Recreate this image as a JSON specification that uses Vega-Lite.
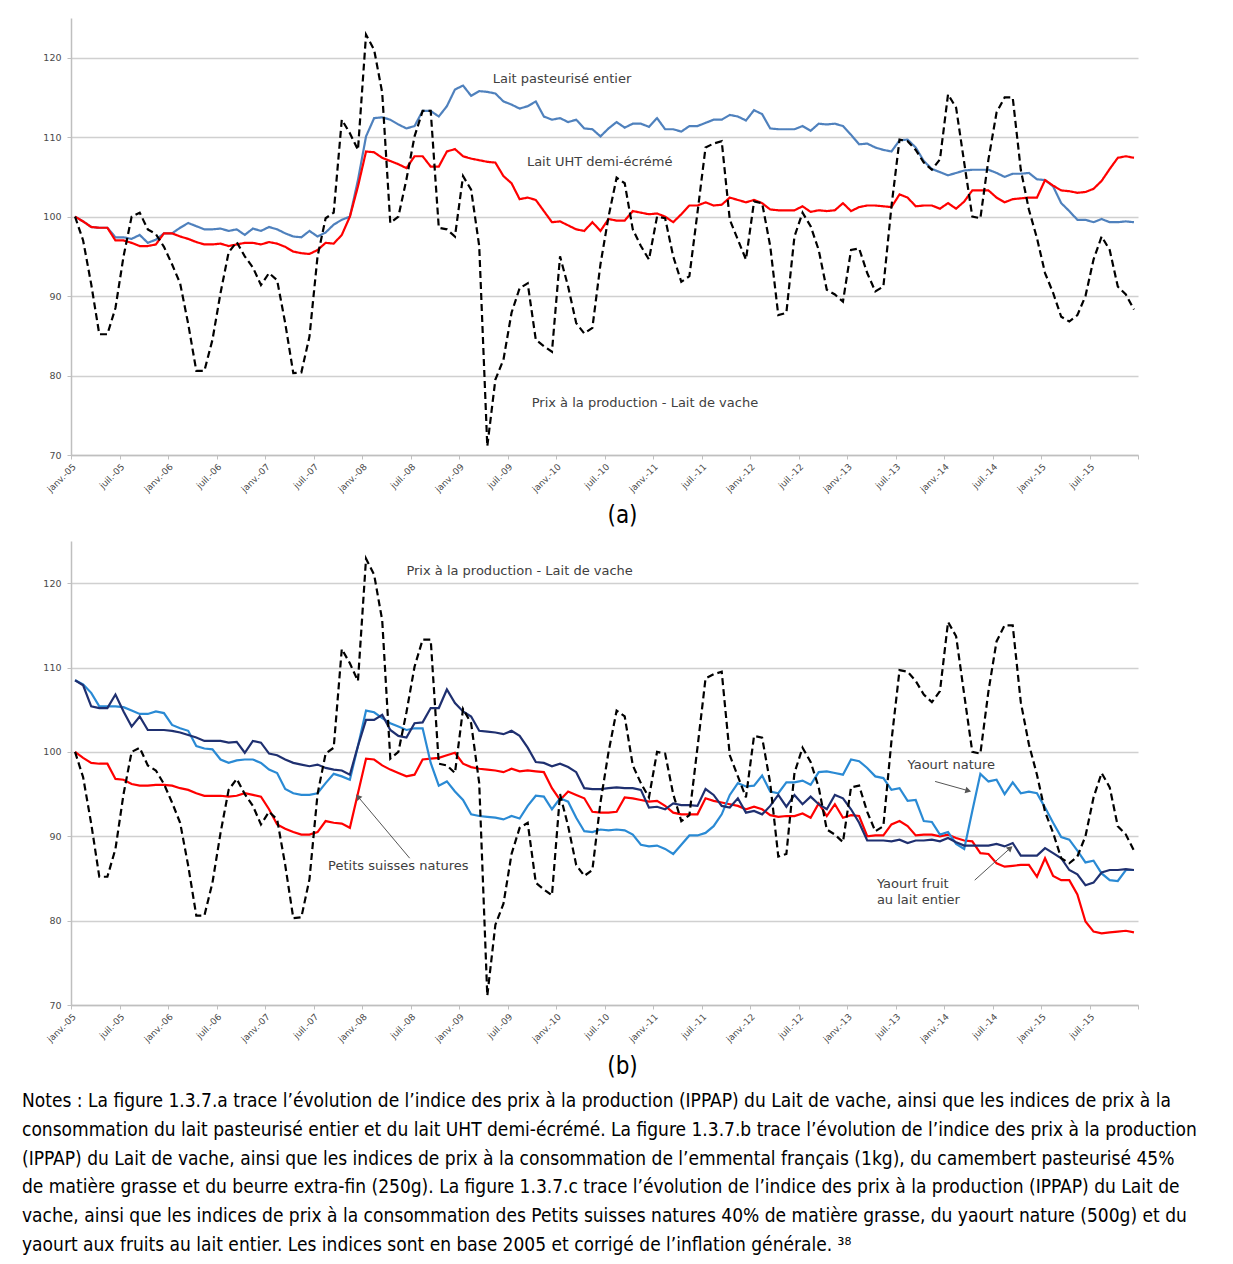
{
  "$schema": "https://vega.github.io/schema/vega-lite/v6.json",
  "background": "white",
  "padding": {"left": 21, "top": 18, "right": 5, "bottom": 5},
  "spacing": 14,
  "resolve": {"scale": {"color": "independent", "strokeDash": "independent"}},
  "config": {
    "font": "DejaVu Sans",
    "view": {"stroke": null},
    "axis": {"labelFont": "DejaVu Sans", "labelColor": "#4a4a4a", "domainColor": "#bfbfbf", "domainWidth": 1.5, "tickColor": "#bfbfbf", "gridColor": "#d0d0d0", "gridWidth": 1.5}
  },
  "datasets": {
    "a": [
      {"m":0,"prod":100,"past":100,"uht":100},{"m":1,"prod":97,"past":99.4,"uht":99.4},{"m":2,"prod":91.5,"past":98.7,"uht":98.7},{"m":3,"prod":85.2,"past":98.6,"uht":98.6},{"m":4,"prod":85.2,"past":98.6,"uht":98.6},{"m":5,"prod":88.5,"past":97.4,"uht":97},{"m":6,"prod":95,"past":97.4,"uht":97},{"m":7,"prod":100,"past":97.2,"uht":96.7},{"m":8,"prod":100.5,"past":97.7,"uht":96.3},{"m":9,"prod":98.4,"past":96.7,"uht":96.3},{"m":10,"prod":97.8,"past":97.1,"uht":96.5},{"m":11,"prod":96.2,"past":97.9,"uht":97.9},
      {"m":12,"prod":94,"past":97.9,"uht":97.9},{"m":13,"prod":91.6,"past":98.6,"uht":97.5},{"m":14,"prod":86.5,"past":99.2,"uht":97.2},{"m":15,"prod":80.6,"past":98.8,"uht":96.8},{"m":16,"prod":80.6,"past":98.4,"uht":96.5},{"m":17,"prod":84.5,"past":98.4,"uht":96.5},{"m":18,"prod":90.4,"past":98.5,"uht":96.6},{"m":19,"prod":95.5,"past":98.2,"uht":96.3},{"m":20,"prod":96.8,"past":98.4,"uht":96.5},{"m":21,"prod":95,"past":97.7,"uht":96.7},{"m":22,"prod":93.6,"past":98.5,"uht":96.7},{"m":23,"prod":91.4,"past":98.2,"uht":96.5},
      {"m":24,"prod":92.9,"past":98.7,"uht":96.8},{"m":25,"prod":92,"past":98.4,"uht":96.6},{"m":26,"prod":86.6,"past":97.9,"uht":96.2},{"m":27,"prod":80.3,"past":97.5,"uht":95.6},{"m":28,"prod":80.4,"past":97.4,"uht":95.4},{"m":29,"prod":84.9,"past":98.2,"uht":95.3},{"m":30,"prod":95,"past":97.5,"uht":95.8},{"m":31,"prod":99.8,"past":98,"uht":96.7},{"m":32,"prod":100.5,"past":99,"uht":96.6},{"m":33,"prod":112.2,"past":99.6,"uht":97.7},{"m":34,"prod":110.5,"past":100,"uht":100},{"m":35,"prod":108.4,"past":104.6,"uht":103.8},
      {"m":36,"prod":122.9,"past":110.1,"uht":108.2},{"m":37,"prod":121,"past":112.4,"uht":108.1},{"m":38,"prod":115.6,"past":112.5,"uht":107.4},{"m":39,"prod":99.2,"past":112.2,"uht":107},{"m":40,"prod":100,"past":111.6,"uht":106.6},{"m":41,"prod":104.7,"past":111.1,"uht":106.1},{"m":42,"prod":110.1,"past":111.4,"uht":107.6},{"m":43,"prod":113.3,"past":113.3,"uht":107.6},{"m":44,"prod":113.3,"past":113.3,"uht":106.3},{"m":45,"prod":98.6,"past":112.6,"uht":106.3},{"m":46,"prod":98.4,"past":113.9,"uht":108.2},{"m":47,"prod":97.5,"past":116,"uht":108.5},
      {"m":48,"prod":105.1,"past":116.5,"uht":107.6},{"m":49,"prod":103.4,"past":115.2,"uht":107.3},{"m":50,"prod":96.3,"past":115.8,"uht":107.1},{"m":51,"prod":71.1,"past":115.7,"uht":106.9},{"m":52,"prod":79.5,"past":115.5,"uht":106.8},{"m":53,"prod":82,"past":114.5,"uht":105.1},{"m":54,"prod":87.9,"past":114.1,"uht":104.2},{"m":55,"prod":91,"past":113.6,"uht":102.2},{"m":56,"prod":91.6,"past":113.9,"uht":102.4},{"m":57,"prod":84.5,"past":114.5,"uht":102.1},{"m":58,"prod":83.7,"past":112.6,"uht":100.7},{"m":59,"prod":83,"past":112.2,"uht":99.3},
      {"m":60,"prod":95,"past":112.4,"uht":99.4},{"m":61,"prod":91.2,"past":111.9,"uht":98.9},{"m":62,"prod":86.6,"past":112.2,"uht":98.4},{"m":63,"prod":85.3,"past":111.1,"uht":98.2},{"m":64,"prod":86,"past":111,"uht":99.3},{"m":65,"prod":94,"past":110.1,"uht":98.2},{"m":66,"prod":100,"past":111.1,"uht":99.7},{"m":67,"prod":104.9,"past":111.9,"uht":99.5},{"m":68,"prod":104.2,"past":111.2,"uht":99.5},{"m":69,"prod":98.4,"past":111.7,"uht":100.7},{"m":70,"prod":96.3,"past":111.7,"uht":100.5},{"m":71,"prod":94.6,"past":111.3,"uht":100.3},
      {"m":72,"prod":100,"past":112.4,"uht":100.4},{"m":73,"prod":99.8,"past":111,"uht":100},{"m":74,"prod":95,"past":111,"uht":99.3},{"m":75,"prod":91.8,"past":110.7,"uht":100.3},{"m":76,"prod":92.5,"past":111.4,"uht":101.4},{"m":77,"prod":100.5,"past":111.4,"uht":101.4},{"m":78,"prod":108.7,"past":111.8,"uht":101.8},{"m":79,"prod":109.2,"past":112.2,"uht":101.4},{"m":80,"prod":109.5,"past":112.2,"uht":101.5},{"m":81,"prod":99.6,"past":112.8,"uht":102.4},{"m":82,"prod":97.1,"past":112.6,"uht":102.1},{"m":83,"prod":94.6,"past":112.1,"uht":101.8},
      {"m":84,"prod":101.9,"past":113.4,"uht":102.1},{"m":85,"prod":101.7,"past":112.9,"uht":101.7},{"m":86,"prod":96.3,"past":111.1,"uht":100.9},{"m":87,"prod":87.6,"past":111,"uht":100.8},{"m":88,"prod":87.9,"past":111,"uht":100.8},{"m":89,"prod":97.5,"past":111,"uht":100.8},{"m":90,"prod":100.5,"past":111.4,"uht":101.3},{"m":91,"prod":98.8,"past":110.8,"uht":100.6},{"m":92,"prod":95.8,"past":111.7,"uht":100.8},{"m":93,"prod":90.8,"past":111.6,"uht":100.7},{"m":94,"prod":90.2,"past":111.7,"uht":100.8},{"m":95,"prod":89.3,"past":111.4,"uht":101.7},
      {"m":96,"prod":95.8,"past":110.3,"uht":100.7},{"m":97,"prod":96,"past":109.1,"uht":101.2},{"m":98,"prod":92.9,"past":109.2,"uht":101.4},{"m":99,"prod":90.6,"past":108.7,"uht":101.4},{"m":100,"prod":91.2,"past":108.4,"uht":101.3},{"m":101,"prod":101.3,"past":108.2,"uht":101.2},{"m":102,"prod":109.7,"past":109.6,"uht":102.8},{"m":103,"prod":109.5,"past":109.7,"uht":102.4},{"m":104,"prod":108.4,"past":108.7,"uht":101.3},{"m":105,"prod":106.8,"past":107,"uht":101.4},{"m":106,"prod":105.9,"past":106,"uht":101.4},{"m":107,"prod":107.2,"past":105.6,"uht":101},
      {"m":108,"prod":115.4,"past":105.2,"uht":101.7},{"m":109,"prod":113.7,"past":105.5,"uht":101},{"m":110,"prod":106.8,"past":105.8,"uht":101.9},{"m":111,"prod":100,"past":105.9,"uht":103.3},{"m":112,"prod":99.8,"past":105.9,"uht":103.3},{"m":113,"prod":107.2,"past":105.9,"uht":103.3},{"m":114,"prod":113.1,"past":105.5,"uht":102.4},{"m":115,"prod":115,"past":105,"uht":101.8},{"m":116,"prod":115,"past":105.4,"uht":102.2},{"m":117,"prod":105.9,"past":105.4,"uht":102.3},{"m":118,"prod":100.9,"past":105.5,"uht":102.4},{"m":119,"prod":97.3,"past":104.7,"uht":102.4},
      {"m":120,"prod":92.9,"past":104.6,"uht":104.6},{"m":121,"prod":90.4,"past":103.8,"uht":103.9},{"m":122,"prod":87.4,"past":101.7,"uht":103.3},{"m":123,"prod":86.8,"past":100.7,"uht":103.2},{"m":124,"prod":87.6,"past":99.6,"uht":103},{"m":125,"prod":90,"past":99.6,"uht":103.1},{"m":126,"prod":94.6,"past":99.3,"uht":103.5},{"m":127,"prod":97.5,"past":99.7,"uht":104.5},{"m":128,"prod":95.8,"past":99.3,"uht":106},{"m":129,"prod":91.2,"past":99.3,"uht":107.4},{"m":130,"prod":90.2,"past":99.4,"uht":107.6},{"m":131,"prod":88.3,"past":99.3,"uht":107.4}
    ],
    "b": [
      {"m":0,"ps":100,"yn":108.5,"yf":108.5},{"m":1,"ps":99.3,"yn":108,"yf":107.9},{"m":2,"ps":98.7,"yn":107,"yf":105.4},{"m":3,"ps":98.6,"yn":105.4,"yf":105.2},{"m":4,"ps":98.6,"yn":105.4,"yf":105.2},{"m":5,"ps":96.8,"yn":105.4,"yf":106.8},{"m":6,"ps":96.7,"yn":105.3,"yf":104.8},{"m":7,"ps":96.2,"yn":104.9,"yf":103},{"m":8,"ps":96,"yn":104.5,"yf":104.2},{"m":9,"ps":96,"yn":104.5,"yf":102.6},{"m":10,"ps":96.1,"yn":104.8,"yf":102.6},{"m":11,"ps":96.1,"yn":104.6,"yf":102.6},
      {"m":12,"ps":96,"yn":103.2,"yf":102.5},{"m":13,"ps":95.7,"yn":102.8,"yf":102.3},{"m":14,"ps":95.5,"yn":102.5,"yf":102},{"m":15,"ps":95.1,"yn":100.7,"yf":101.7},{"m":16,"ps":94.8,"yn":100.4,"yf":101.3},{"m":17,"ps":94.8,"yn":100.3,"yf":101.3},{"m":18,"ps":94.8,"yn":99.1,"yf":101.3},{"m":19,"ps":94.7,"yn":98.7,"yf":101.1},{"m":20,"ps":94.8,"yn":99,"yf":101.2},{"m":21,"ps":95.1,"yn":99.1,"yf":99.9},{"m":22,"ps":94.9,"yn":99.1,"yf":101.3},{"m":23,"ps":94.7,"yn":98.7,"yf":101.1},
      {"m":24,"ps":93.2,"yn":97.9,"yf":99.8},{"m":25,"ps":91.4,"yn":97.5,"yf":99.6},{"m":26,"ps":90.9,"yn":95.6,"yf":99.1},{"m":27,"ps":90.5,"yn":95.1,"yf":98.7},{"m":28,"ps":90.2,"yn":94.9,"yf":98.5},{"m":29,"ps":90.2,"yn":94.9,"yf":98.3},{"m":30,"ps":90.5,"yn":95.1,"yf":98.5},{"m":31,"ps":91.8,"yn":96.3,"yf":98.1},{"m":32,"ps":91.6,"yn":97.4,"yf":97.9},{"m":33,"ps":91.5,"yn":97.1,"yf":97.8},{"m":34,"ps":91,"yn":96.7,"yf":97.3},{"m":35,"ps":95.1,"yn":100.7,"yf":100.7},
      {"m":36,"ps":99.2,"yn":104.9,"yf":103.8},{"m":37,"ps":99.1,"yn":104.7,"yf":103.8},{"m":38,"ps":98.4,"yn":104,"yf":104.4},{"m":39,"ps":97.9,"yn":103.4,"yf":102.6},{"m":40,"ps":97.5,"yn":103,"yf":101.9},{"m":41,"ps":97.1,"yn":102.6,"yf":101.7},{"m":42,"ps":97.3,"yn":102.8,"yf":103.4},{"m":43,"ps":99.1,"yn":102.8,"yf":103.5},{"m":44,"ps":99.2,"yn":98.7,"yf":105.2},{"m":45,"ps":99.3,"yn":96,"yf":105.2},{"m":46,"ps":99.6,"yn":96.5,"yf":107.4},{"m":47,"ps":99.9,"yn":95.3,"yf":105.8},
      {"m":48,"ps":98.6,"yn":94.3,"yf":104.8},{"m":49,"ps":98.2,"yn":92.6,"yf":104.2},{"m":50,"ps":98,"yn":92.4,"yf":102.5},{"m":51,"ps":97.9,"yn":92.3,"yf":102.4},{"m":52,"ps":97.8,"yn":92.2,"yf":102.3},{"m":53,"ps":97.6,"yn":92,"yf":102.1},{"m":54,"ps":98,"yn":92.4,"yf":102.5},{"m":55,"ps":97.7,"yn":92.1,"yf":101.9},{"m":56,"ps":97.8,"yn":93.6,"yf":100.5},{"m":57,"ps":97.7,"yn":94.8,"yf":98.8},{"m":58,"ps":97.6,"yn":94.7,"yf":98.7},{"m":59,"ps":95.7,"yn":93.2,"yf":98.3},
      {"m":60,"ps":94.3,"yn":94.5,"yf":98.6},{"m":61,"ps":95.3,"yn":94.1,"yf":98.2},{"m":62,"ps":94.9,"yn":92.2,"yf":97.6},{"m":63,"ps":94.5,"yn":90.6,"yf":95.7},{"m":64,"ps":92.9,"yn":90.5,"yf":95.6},{"m":65,"ps":92.8,"yn":90.8,"yf":95.6},{"m":66,"ps":92.8,"yn":90.7,"yf":95.7},{"m":67,"ps":92.9,"yn":90.8,"yf":95.8},{"m":68,"ps":94.6,"yn":90.7,"yf":95.7},{"m":69,"ps":94.5,"yn":90.2,"yf":95.7},{"m":70,"ps":94.3,"yn":89,"yf":95.5},{"m":71,"ps":94.1,"yn":88.8,"yf":93.4},
      {"m":72,"ps":94.2,"yn":88.9,"yf":93.5},{"m":73,"ps":93.6,"yn":88.5,"yf":93.2},{"m":74,"ps":92.8,"yn":87.9,"yf":93.9},{"m":75,"ps":92.6,"yn":89,"yf":93.7},{"m":76,"ps":92.6,"yn":90.1,"yf":93.7},{"m":77,"ps":92.6,"yn":90.1,"yf":93.6},{"m":78,"ps":94.5,"yn":90.4,"yf":95.6},{"m":79,"ps":94.2,"yn":91.2,"yf":94.9},{"m":80,"ps":94,"yn":92.6,"yf":93.6},{"m":81,"ps":93.8,"yn":94.9,"yf":93.4},{"m":82,"ps":93.6,"yn":96.3,"yf":94.5},{"m":83,"ps":93.2,"yn":95.9,"yf":92.8},
      {"m":84,"ps":93.5,"yn":96,"yf":93},{"m":85,"ps":93.2,"yn":97.2,"yf":92.6},{"m":86,"ps":92.5,"yn":95.3,"yf":93.6},{"m":87,"ps":92.3,"yn":95.1,"yf":94.9},{"m":88,"ps":92.4,"yn":96.4,"yf":93.5},{"m":89,"ps":92.4,"yn":96.4,"yf":94.9},{"m":90,"ps":92.7,"yn":96.6,"yf":93.8},{"m":91,"ps":92.2,"yn":96.1,"yf":94.7},{"m":92,"ps":93.9,"yn":97.6,"yf":93.8},{"m":93,"ps":92.4,"yn":97.7,"yf":93.2},{"m":94,"ps":93.8,"yn":97.5,"yf":94.9},{"m":95,"ps":92.2,"yn":97.3,"yf":94.5},
      {"m":96,"ps":92.5,"yn":99.1,"yf":93.2},{"m":97,"ps":92.4,"yn":98.9,"yf":91.6},{"m":98,"ps":90,"yn":98.1,"yf":89.5},{"m":99,"ps":90.1,"yn":97.1,"yf":89.5},{"m":100,"ps":90.1,"yn":96.9,"yf":89.5},{"m":101,"ps":91.4,"yn":95.5,"yf":89.4},{"m":102,"ps":91.8,"yn":95.7,"yf":89.6},{"m":103,"ps":91.2,"yn":94.2,"yf":89.2},{"m":104,"ps":90.1,"yn":94.3,"yf":89.5},{"m":105,"ps":90.2,"yn":91.8,"yf":89.5},{"m":106,"ps":90.2,"yn":91.7,"yf":89.6},{"m":107,"ps":90,"yn":90.2,"yf":89.4},
      {"m":108,"ps":90.2,"yn":90.5,"yf":89.8},{"m":109,"ps":89.8,"yn":89.1,"yf":89.3},{"m":110,"ps":89.5,"yn":88.5,"yf":88.9},{"m":111,"ps":89.4,"yn":93,"yf":88.9},{"m":112,"ps":88,"yn":97.4,"yf":88.9},{"m":113,"ps":87.9,"yn":96.5,"yf":88.9},{"m":114,"ps":86.8,"yn":96.7,"yf":89.1},{"m":115,"ps":86.4,"yn":95,"yf":88.8},{"m":116,"ps":86.5,"yn":96.4,"yf":89.2},{"m":117,"ps":86.6,"yn":95.1,"yf":87.7},{"m":118,"ps":86.6,"yn":95.3,"yf":87.7},{"m":119,"ps":85.2,"yn":95.1,"yf":87.7},
      {"m":120,"ps":87.4,"yn":93.4,"yf":88.6},{"m":121,"ps":85.3,"yn":91.6,"yf":88},{"m":122,"ps":84.8,"yn":89.9,"yf":87.4},{"m":123,"ps":84.8,"yn":89.6,"yf":86},{"m":124,"ps":83.1,"yn":88.3,"yf":85.5},{"m":125,"ps":79.9,"yn":86.9,"yf":84.2},{"m":126,"ps":78.7,"yn":87.1,"yf":84.5},{"m":127,"ps":78.5,"yn":85.6,"yf":85.7},{"m":128,"ps":78.6,"yn":84.8,"yf":86},{"m":129,"ps":78.7,"yn":84.7,"yf":86},{"m":130,"ps":78.8,"yn":86,"yf":86.1},{"m":131,"ps":78.6,"yn":86,"yf":86}
    ]
  },
  "vconcat": [
    {
      "width": 1067,
      "height": 437,
      "layer": [
        {
          "data": {"name": "a"},
          "transform": [{"fold": ["past", "uht", "prod"], "as": ["serie", "valeur"]}],
          "mark": {"type": "line", "strokeWidth": 2.2},
          "encoding": {
            "x": {"field": "m", "type": "quantitative", "scale": {"domain": [-0.5, 131.5], "nice": false, "zero": false},
              "axis": {"values": [-0.5,5.5,11.5,17.5,23.5,29.5,35.5,41.5,47.5,53.5,59.5,65.5,71.5,77.5,83.5,89.5,95.5,101.5,107.5,113.5,119.5,125.5,131.5],
                "labelExpr": "datum.value > 131 ? '' : (((datum.value + 0.5) % 12 == 0) ? 'janv.-' : 'juil.-') + ((floor((datum.value + 0.5) / 12) + 5) < 10 ? '0' : '') + (floor((datum.value + 0.5) / 12) + 5)",
                "labelAngle": -45, "labelFontSize": 9, "labelPadding": 3, "tickSize": 4, "grid": false, "labelFlush": false, "labelOverlap": false,
                "title": "(a)", "titleFont": "Liberation Sans Narrow, DejaVu Sans Condensed", "titleFontSize": 24, "titleFontWeight": "normal", "titleColor": "#000000", "titleX": 551, "titleY": 60, "titleBaseline": "middle", "titleAlign": "center"}},
            "y": {"field": "valeur", "type": "quantitative", "scale": {"domain": [70, 125], "nice": false, "zero": false},
              "axis": {"values": [70,80,90,100,110,120], "title": null, "tickSize": 4, "labelPadding": 6, "labelFontSize": 9.5, "minExtent": 50, "maxExtent": 50}},
            "color": {"field": "serie", "type": "nominal", "scale": {"domain": ["past", "uht", "prod"], "range": ["#4f81bd", "#ff0000", "#000000"]}, "legend": null},
            "strokeDash": {"field": "serie", "type": "nominal", "scale": {"domain": ["past", "uht", "prod"], "range": [[1, 0], [1, 0], [7, 4]]}, "legend": null}
          }
        },
        {
          "data": {"values": [
            {"m": 60.25, "valeur": 117.3, "texte": "Lait pasteurisé entier"},
            {"m": 64.9, "valeur": 106.9, "texte": "Lait UHT demi-écrémé"},
            {"m": 70.5, "valeur": 76.5, "texte": "Prix à la production - Lait de vache"}
          ]},
          "mark": {"type": "text", "font": "DejaVu Sans", "fontSize": 13, "color": "#404040", "align": "center", "baseline": "middle"},
          "encoding": {
            "x": {"field": "m", "type": "quantitative"},
            "y": {"field": "valeur", "type": "quantitative"},
            "text": {"field": "texte"}
          }
        }
      ]
    },
    {
      "width": 1067,
      "height": 464,
      "layer": [
        {
          "data": {"name": "b"},
          "transform": [{"fold": ["ps", "yn", "yf"], "as": ["serie", "valeur"]}],
          "mark": {"type": "line", "strokeWidth": 2.2},
          "encoding": {
            "x": {"field": "m", "type": "quantitative", "scale": {"domain": [-0.5, 131.5], "nice": false, "zero": false},
              "axis": {"values": [-0.5,5.5,11.5,17.5,23.5,29.5,35.5,41.5,47.5,53.5,59.5,65.5,71.5,77.5,83.5,89.5,95.5,101.5,107.5,113.5,119.5,125.5,131.5],
                "labelExpr": "datum.value > 131 ? '' : (((datum.value + 0.5) % 12 == 0) ? 'janv.-' : 'juil.-') + ((floor((datum.value + 0.5) / 12) + 5) < 10 ? '0' : '') + (floor((datum.value + 0.5) / 12) + 5)",
                "labelAngle": -45, "labelFontSize": 9, "labelPadding": 3, "tickSize": 4, "grid": false, "labelFlush": false, "labelOverlap": false,
                "title": "(b)", "titleFont": "Liberation Sans Narrow, DejaVu Sans Condensed", "titleFontSize": 24, "titleFontWeight": "normal", "titleColor": "#000000", "titleX": 551, "titleY": 61, "titleBaseline": "middle", "titleAlign": "center"}},
            "y": {"field": "valeur", "type": "quantitative", "scale": {"domain": [70, 125], "nice": false, "zero": false},
              "axis": {"values": [70,80,90,100,110,120], "title": null, "tickSize": 4, "labelPadding": 6, "labelFontSize": 9.5, "minExtent": 50, "maxExtent": 50}},
            "color": {"field": "serie", "type": "nominal", "scale": {"domain": ["ps", "yn", "yf"], "range": ["#ff0000", "#2a8ad4", "#1f3070"]}, "legend": null}
          }
        },
        {
          "data": {"name": "a"},
          "transform": [{"fold": ["prod"], "as": ["serie", "valeur"]}],
          "mark": {"type": "line", "strokeWidth": 2.2, "color": "#000000", "strokeDash": [7, 4]},
          "encoding": {
            "x": {"field": "m", "type": "quantitative"},
            "y": {"field": "valeur", "type": "quantitative"}
          }
        },
        {
          "data": {"values": [
            {"m": 55, "valeur": 121.5, "texte": "Prix à la production - Lait de vache"},
            {"m": 40, "valeur": 86.5, "texte": "Petits suisses natures"},
            {"m": 108.4, "valeur": 98.5, "texte": "Yaourt nature"}
          ]},
          "mark": {"type": "text", "font": "DejaVu Sans", "fontSize": 13, "color": "#404040", "align": "center", "baseline": "middle"},
          "encoding": {
            "x": {"field": "m", "type": "quantitative"},
            "y": {"field": "valeur", "type": "quantitative"},
            "text": {"field": "texte"}
          }
        },
        {
          "data": {"values": [
            {"m": 99.2, "valeur": 84.35, "texte": "Yaourt fruit"},
            {"m": 99.2, "valeur": 82.45, "texte": "au lait entier"}
          ]},
          "mark": {"type": "text", "font": "DejaVu Sans", "fontSize": 13, "color": "#404040", "align": "left", "baseline": "middle"},
          "encoding": {
            "x": {"field": "m", "type": "quantitative"},
            "y": {"field": "valeur", "type": "quantitative"},
            "text": {"field": "texte"}
          }
        },
        {
          "data": {"values": [
            {"m": 41.4, "valeur": 87.4, "m2": 35, "valeur2": 94.7},
            {"m": 106.4, "valeur": 96.5, "m2": 110.5, "valeur2": 95.4},
            {"m": 111.3, "valeur": 84.8, "m2": 115.7, "valeur2": 88.6}
          ]},
          "mark": {"type": "rule", "color": "#555555", "strokeWidth": 1},
          "encoding": {
            "x": {"field": "m", "type": "quantitative"},
            "y": {"field": "valeur", "type": "quantitative"},
            "x2": {"field": "m2"},
            "y2": {"field": "valeur2"}
          }
        },
        {
          "data": {"values": [{"m": 35, "valeur": 94.7}]},
          "mark": {"type": "point", "shape": "triangle-up", "angle": 320, "size": 45, "filled": true, "color": "#555555", "opacity": 1},
          "encoding": {
            "x": {"field": "m", "type": "quantitative"},
            "y": {"field": "valeur", "type": "quantitative"}
          }
        },
        {
          "data": {"values": [{"m": 110.5, "valeur": 95.4}]},
          "mark": {"type": "point", "shape": "triangle-up", "angle": 105, "size": 45, "filled": true, "color": "#555555", "opacity": 1},
          "encoding": {
            "x": {"field": "m", "type": "quantitative"},
            "y": {"field": "valeur", "type": "quantitative"}
          }
        },
        {
          "data": {"values": [{"m": 115.7, "valeur": 88.6}]},
          "mark": {"type": "point", "shape": "triangle-up", "angle": 48, "size": 45, "filled": true, "color": "#555555", "opacity": 1},
          "encoding": {
            "x": {"field": "m", "type": "quantitative"},
            "y": {"field": "valeur", "type": "quantitative"}
          }
        }
      ]
    },
    {
      "width": 1150,
      "height": 172,
      "data": {"values": [
        {"ligne": 1, "texte": "Notes : La figure 1.3.7.a trace l’évolution de l’indice des prix à la production (IPPAP) du Lait de vache, ainsi que les indices de prix à la"},
        {"ligne": 2, "texte": "consommation du lait pasteurisé entier et du lait UHT demi-écrémé. La figure 1.3.7.b trace l’évolution de l’indice des prix à la production"},
        {"ligne": 3, "texte": "(IPPAP) du Lait de vache, ainsi que les indices de prix à la consommation de l’emmental français (1kg), du camembert pasteurisé 45%"},
        {"ligne": 4, "texte": "de matière grasse et du beurre extra-fin (250g). La figure 1.3.7.c trace l’évolution de l’indice des prix à la production (IPPAP) du Lait de"},
        {"ligne": 5, "texte": "vache, ainsi que les indices de prix à la consommation des Petits suisses natures 40% de matière grasse, du yaourt nature (500g) et du"},
        {"ligne": 6, "texte": "yaourt aux fruits au lait entier. Les indices sont en base 2005 et corrigé de l’inflation générale. ³⁸"}
      ]},
      "mark": {"type": "text", "font": "Liberation Sans Narrow, DejaVu Sans Condensed, sans-serif", "fontSize": 19, "color": "#000000", "align": "left", "baseline": "middle", "dx": -49, "dy": -7},
      "encoding": {
        "x": {"datum": 0, "type": "quantitative", "scale": {"domain": [0, 1]}, "axis": null},
        "y": {"field": "ligne", "type": "quantitative", "scale": {"domain": [0.5, 6.5], "reverse": true}, "axis": null},
        "text": {"field": "texte"}
      }
    }
  ]
}
